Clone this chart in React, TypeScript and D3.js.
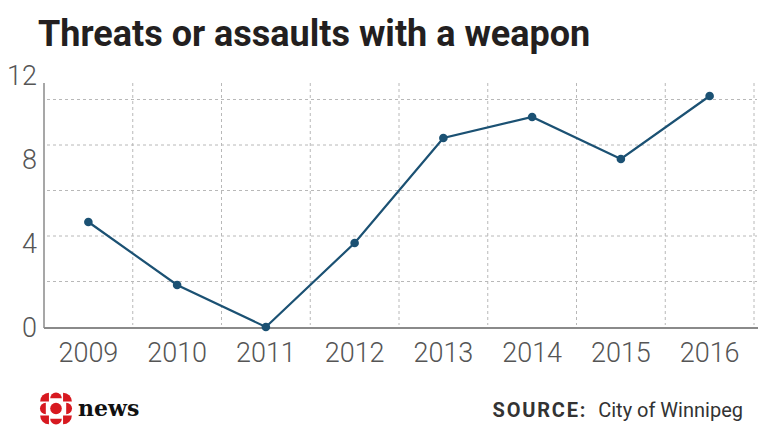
import React from "react";
import * as d3 from "d3";

const years = ["2009", "2010", "2011", "2012", "2013", "2014", "2015", "2016"];
const values = [5, 2, 0, 4, 9, 10, 8, 11];
const yTicks = [0, 4, 8, 12];
const gridValues = [13 / 6, 26 / 6, 39 / 6, 52 / 6, 65 / 6];
const title = "Threats or assaults with a weapon";
const sourceLabel = "SOURCE:";
const sourceText = "City of Winnipeg";

const W = 780;
const H = 439;

export default function App() {
  const x = d3.scaleBand<string>().domain(years).range([44, 754]).padding(0);
  const y = d3.scaleLinear().domain([0, 12]).range([327, 75]);
  const plotTop = 83;
  const plotBottom = 327;
  const line = d3
    .line<number>()
    .x((_, i) => (x(years[i]) as number) + x.bandwidth() / 2)
    .y((d) => y(d));

  const font = "Roboto, 'DejaVu Sans', sans-serif";
  const lineColor = "#1b5173";

  // CBC gem pieces (unit layout, scaled)
  const arc = d3.arc();
  const semis = [0, 90, 180, 270].map((a) => {
    const rad = ((a - 90) * Math.PI) / 180;
    const d = arc({
      innerRadius: 0,
      outerRadius: 5,
      startAngle: (a * Math.PI) / 180 - Math.PI / 2,
      endAngle: (a * Math.PI) / 180 + Math.PI / 2,
    } as any) as string;
    return { tx: Math.cos(rad) * 8.8, ty: Math.sin(rad) * 8.8, d };
  });
  const quarters = [45, 135, 225, 315].map((a) => {
    const rad = ((a - 90) * Math.PI) / 180;
    const d = arc({
      innerRadius: 0,
      outerRadius: 7.6,
      startAngle: (a * Math.PI) / 180 - Math.PI / 4,
      endAngle: (a * Math.PI) / 180 + Math.PI / 4,
    } as any) as string;
    return { tx: Math.cos(rad) * 8.6, ty: Math.sin(rad) * 8.6, d };
  });

  return (
    <svg width={W} height={H} style={{ position: "absolute", left: 0, top: 0, background: "#fff" }}>
      <rect width={W} height={H} fill="#fff" />
      <text x={38} y={46} fontFamily={font} fontWeight={700} fontSize={36} fill="#231f20">
        {title}
      </text>

      {/* horizontal grid */}
      {gridValues.map((v, i) => (
        <line
          key={"h" + i}
          x1={47}
          x2={757}
          y1={y(v)}
          y2={y(v)}
          stroke="#b8b8b8"
          strokeDasharray="3,3"
          strokeWidth={1}
        />
      ))}
      {/* vertical grid */}
      {years.map((yr) => {
        const xx = (x(yr) as number) + x.bandwidth();
        return (
          <line
            key={"v" + yr}
            x1={xx}
            x2={xx}
            y1={plotTop}
            y2={plotBottom - 2}
            stroke="#b8b8b8"
            strokeDasharray="3,3"
            strokeWidth={1}
          />
        );
      })}

      {/* axes */}
      <line x1={44} x2={44} y1={plotTop} y2={plotBottom + 1} stroke="#8a8a8a" strokeWidth={1.5} />
      <line x1={44} x2={758} y1={plotBottom + 1} y2={plotBottom + 1} stroke="#8a8a8a" strokeWidth={2} />

      {yTicks.map((t) => (
        <text
          key={"yt" + t}
          x={37}
          y={y(t)}
          dy="0.36em"
          textAnchor="end"
          fontFamily={font}
          fontWeight={300}
          fontSize={27}
          fill="#555"
        >
          {t}
        </text>
      ))}
      {years.map((yr) => (
        <text
          key={"xt" + yr}
          x={(x(yr) as number) + x.bandwidth() / 2}
          y={362}
          textAnchor="middle"
          fontFamily={font}
          fontWeight={300}
          fontSize={27}
          fill="#555"
        >
          {yr}
        </text>
      ))}

      <path d={line(values) as string} fill="none" stroke={lineColor} strokeWidth={2.2} />
      {values.map((v, i) => (
        <circle
          key={"p" + i}
          cx={(x(years[i]) as number) + x.bandwidth() / 2}
          cy={y(v)}
          r={4.3}
          fill={lineColor}
        />
      ))}

      {/* logo */}
      <g fill="#d71920" transform="translate(56,408.5) scale(1.16)">
        <circle cx={0} cy={0} r={5} />
        {semis.map((s, i) => (
          <path key={"s" + i} transform={`translate(${s.tx},${s.ty})`} d={s.d} />
        ))}
        {quarters.map((q, i) => (
          <path key={"q" + i} transform={`translate(${q.tx},${q.ty})`} d={q.d} />
        ))}
      </g>
      <text x={78} y={416} fontFamily="'DejaVu Serif', serif" fontWeight={700} fontSize={22} fill="#111">
        news
      </text>

      <text x={743} y={417} textAnchor="end" fontFamily={font} fontSize={20} fill="#333">
        <tspan fontWeight={700} letterSpacing={1.8}>{sourceLabel}</tspan>
        <tspan dx={11}>{sourceText}</tspan>
      </text>
    </svg>
  );
}
